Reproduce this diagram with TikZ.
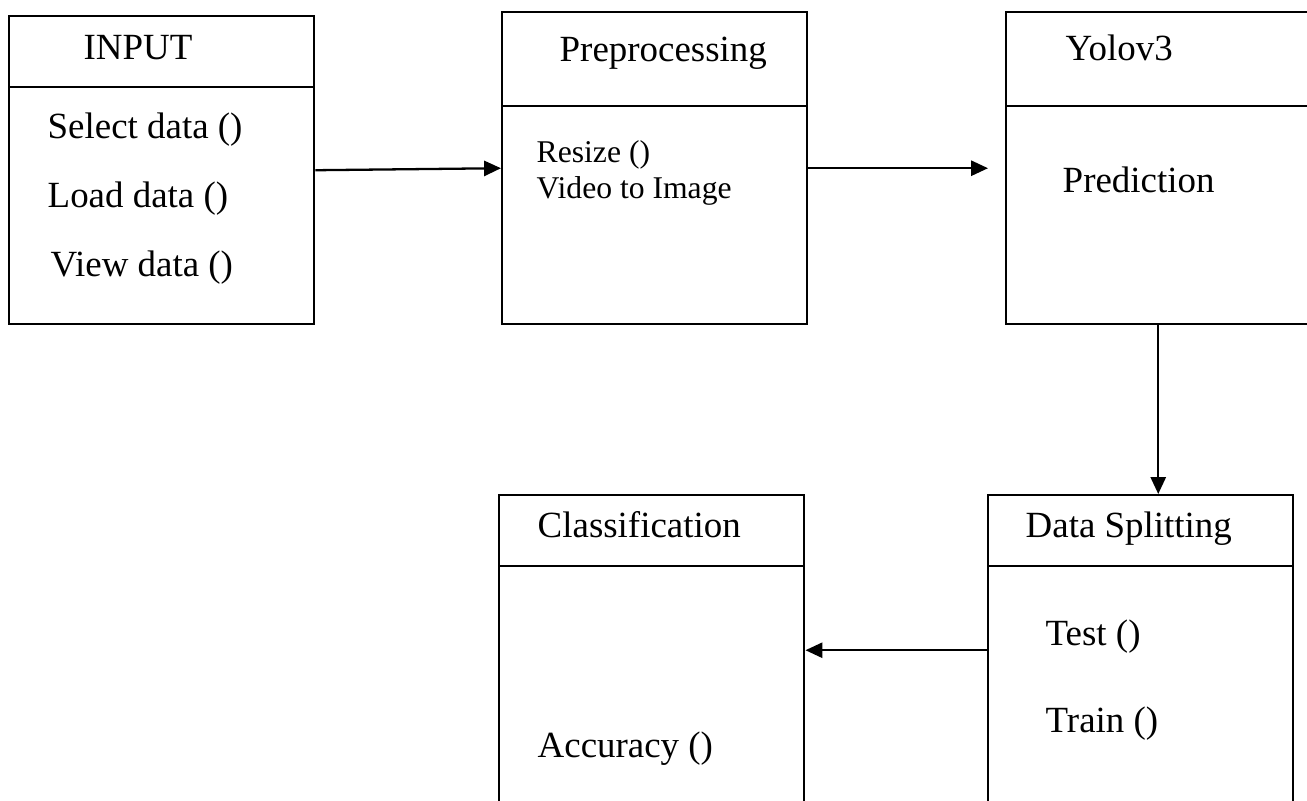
\documentclass[tikz,border=0pt]{standalone}
\usepackage{fontspec}
\setmainfont{Liberation Serif}
\usepackage{tikz}
\usetikzlibrary{arrows.meta, positioning, calc}
\tikzset{
  block/.style={
    rectangle, anchor=north west, inner sep=0pt,
    minimum width=3.05cm, minimum height=3.1cm,
    draw=black, line width=0.65pt,
  },
  divider/.style={line width=0.35pt},
  label/.style={
    anchor=base west, inner sep=0pt,
    font=\fontsize{10.5}{12}\selectfont,
  },
  small/.style={
    anchor=base west, inner sep=0pt,
    font=\fontsize{9}{10}\selectfont,
  },
  arrow/.style={-{Triangle[length=4.8pt, width=4.3pt]}, line width=0.65pt},
}

\begin{document}
\begin{tikzpicture}[x=0.01cm, y=-0.01cm]
  \useasboundingbox (0,0) rectangle (1307,801);
  \clip (0,0) rectangle (1307,801);
  \node[block, minimum height=3.08cm] (input) at (8,15) {};
  \node[block, minimum height=3.12cm] (prep) at (501,11) {};
  \node[block, minimum width=3.04cm, minimum height=3.12cm] (yolo) at (1005,11) {};
  \node[block] (split) at (987,494) {};
  \node[block] (class) at (498,494) {};
  \draw[divider] (input.west |- 0,87) -- (input.east |- 0,87);
  \draw[divider] (prep.west |- 0,106) -- (prep.east |- 0,106);
  \draw[divider] (yolo.west |- 0,106) -- (yolo.east |- 0,106);
  \draw[divider] (split.west |- 0,566) -- (split.east |- 0,566);
  \draw[divider] (class.west |- 0,566) -- (class.east |- 0,566);
  \node[label] (inputtitle) at (83,60) {INPUT};
  \node[label] (select) at (47,139) {Select data ()};
  \node[label] (load) at (47,208) {Load data ()};
  \node[label] (view) at (50,277) {View data ()};
  \node[label] (preptitle) at (559,62) {Preprocessing};
  \node[small] (resize) at (536,163) {Resize ()};
  \node[small] (video) at (536,199) {Video to Image};
  \node[label] (yolotitle) at (1065,61) {Yolov3};
  \node[label] (predict) at (1062,193) {Prediction};
  \node[label] (splittitle) at (1025,538) {Data Splitting};
  \node[label] (test) at (1045,645) {Test ()};
  \node[label] (train) at (1045,732) {Train ()};
  \node[label] (classtitle) at (537,538) {Classification};
  \node[label] (accuracy) at (537,757) {Accuracy ()};
  \draw[arrow] (input.east) -- (prep.west);
  \draw[arrow, shorten >=0.17cm] (prep.east) -- (yolo.west);
  \draw[arrow] (yolo.south) -- (yolo.south |- split.north);
  \draw[arrow] (split.west) -- (class.east);
\end{tikzpicture}
\end{document}
